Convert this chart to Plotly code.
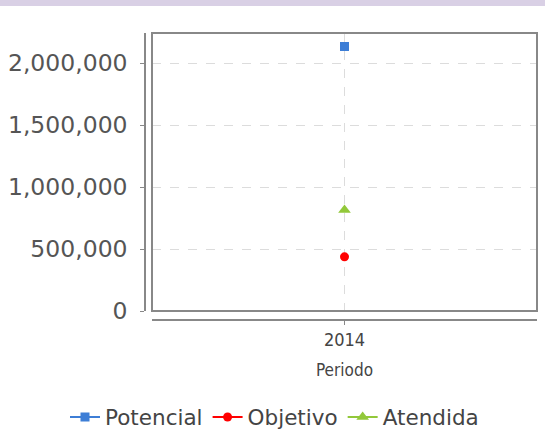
import plotly.graph_objects as go

periods = ["2014"]
potencial = [2133000]
objetivo = [437000]
atendida = [815000]

series_names = ["Potencial", "Objetivo", "Atendida"]
series_values = [potencial, objetivo, atendida]
colors = ["#3d7ed6", "#ff0000", "#92c83a"]
symbols = ["square", "circle", "triangle-up"]
sizes = [9, 9, 11]

fig = go.Figure()
for name, vals, col, sym, sz in zip(series_names, series_values, colors, symbols, sizes):
    fig.add_trace(go.Scatter(
        x=periods, y=vals, name=name, mode="lines+markers",
        line=dict(color=col, width=2),
        marker=dict(color=col, symbol=sym, size=sz),
    ))

W, H = 545, 434
ml, mr, mt, mb = 145, 8, 33, 114
pw = W - ml - mr
ph = H - mt - mb

fig.update_layout(
    width=W, height=H,
    margin=dict(l=ml, r=mr, t=mt, b=mb, autoexpand=False),
    paper_bgcolor="white", plot_bgcolor="white",
    font=dict(family="DejaVu Sans", color="#444"),
    showlegend=True,
    legend=dict(
        orientation="h", xref="paper", yref="paper",
        x=(65 - ml) / pw, xanchor="left", y=-(417 - (H - mb)) / ph, yanchor="middle",
        font=dict(size=21.5, color="#444"), itemwidth=30,
        traceorder="normal",
    ),
    xaxis=dict(
        type="category", domain=[7 / pw, 1], anchor="free", position=0,
        showline=True, linecolor="#888", linewidth=1.5,
        ticks="outside", ticklen=4, tickcolor="#888",
        tickfont=dict(family="DejaVu Sans Condensed", size=18, color="#444"),
        showgrid=True, gridcolor="#dcdcdc", griddash="dash", gridwidth=1,
        title=dict(text="Periodo", font=dict(family="DejaVu Sans Condensed", size=17, color="#444"), standoff=14),
        zeroline=False, fixedrange=True,
    ),
    yaxis=dict(
        domain=[9 / ph, 1], anchor="free", position=0,
        range=[0, 2241935], dtick=500000, tick0=0, tickformat=",d",
        showline=True, linecolor="#888", linewidth=1.5,
        ticks="outside", ticklen=4, tickcolor="#888",
        ticklabelstandoff=8,
        tickfont=dict(family="DejaVu Sans", size=23.5, color="#555"),
        showgrid=True, gridcolor="#dcdcdc", griddash="dash", gridwidth=1,
        zeroline=False, fixedrange=True,
    ),
    shapes=[
        dict(type="rect", xref="x domain", yref="y domain", x0=0, x1=1, y0=0, y1=1,
             line=dict(color="#888", width=2), fillcolor="rgba(0,0,0,0)", layer="above"),
        dict(type="rect", xref="paper", yref="paper",
             x0=-ml / pw, x1=1 + mr / pw, y0=(H - mb - 6) / ph, y1=(H - mb) / ph,
             line=dict(width=0), fillcolor="#d9d0e5"),
    ],
)

fig.write_html("out.html", config={"displayModeBar": False},
               post_script="document.body.style.margin='0';")
